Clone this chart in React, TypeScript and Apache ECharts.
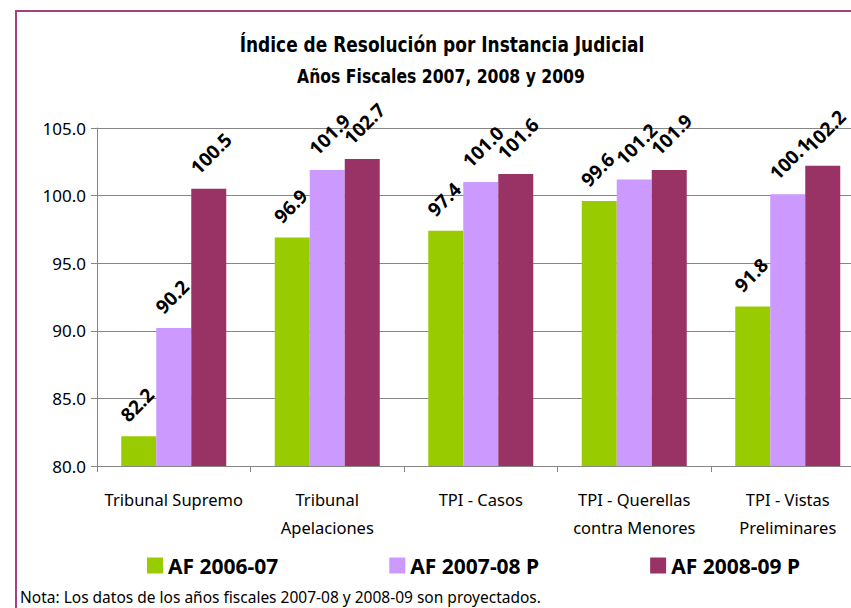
import React, { useEffect, useRef } from "react";
import * as echarts from "echarts";

const categories = [
  "Tribunal Supremo",
  "Tribunal\nApelaciones",
  "TPI - Casos",
  "TPI - Querellas\ncontra Menores",
  "TPI - Vistas\nPreliminares",
];
const seriesNames = ["AF 2006-07", "AF 2007-08 P", "AF 2008-09 P"];
const af2006 = [82.2, 96.9, 97.4, 99.6, 91.8];
const af2007 = [90.2, 101.9, 101.0, 101.2, 100.1];
const af2008 = [100.5, 102.7, 101.6, 101.9, 102.2];
const colors = ["#99CC00", "#CC99FF", "#993366"];

const titleText = "Índice de Resolución por Instancia Judicial";
const subtitleText = "Años Fiscales 2007, 2008 y 2009";
const noteText = "Nota: Los datos de los años fiscales 2007-08 y 2008-09 son proyectados.";

const labelFont = "'Noto Sans', 'DejaVu Sans', sans-serif";
const titleFont = "'DejaVu Sans Condensed', 'DejaVu Sans', sans-serif";

export default function App() {
  const ref = useRef<HTMLDivElement>(null);
  useEffect(() => {
    if (!ref.current) return;
    const chart = echarts.init(ref.current, null, { renderer: "svg" });
    const mk = (name: string, data: number[], color: string) => ({
      name,
      type: "bar",
      data,
      barWidth: 35,
      barGap: "0%",
      itemStyle: { color },
      label: {
        show: true,
        rotate: 45,
        align: "left",
        verticalAlign: "middle",
        fontFamily: labelFont,
        fontWeight: "bold",
        fontSize: 19,
        color: "#000",
        formatter: (p: any) => Number(p.value).toFixed(1),
      },
      labelLayout: (p: any) => ({
        x: p.rect.x + p.rect.width / 2 - 15,
        y: p.rect.y - 18,
        rotate: 45,
        align: "left",
        verticalAlign: "middle",
      }),
    });
    chart.setOption({
      animation: false,
      backgroundColor: "#fff",
      legend: {
        data: seriesNames,
        left: 147,
        top: 555,
        padding: 0,
        itemGap: 111,
        itemWidth: 16,
        itemHeight: 16,
        icon: "rect",
        textStyle: { fontFamily: labelFont, fontWeight: "bold", fontSize: 21, color: "#000" },
      },
      grid: {
        left: 97,
        top: 128,
        width: 767.5,
        height: 338,
        containLabel: false,
        outerBoundsMode: "none",
      },
      xAxis: {
        type: "category",
        data: categories,
        axisLine: { lineStyle: { color: "#868686" } },
        axisTick: { show: true, length: 6, lineStyle: { color: "#868686" } },
        axisLabel: {
          interval: 0,
          margin: 19,
          lineHeight: 28,
          verticalAlign: "top",
          fontFamily: labelFont,
          fontSize: 16.5,
          color: "#000",
        },
      },
      yAxis: {
        type: "value",
        min: 80,
        max: 105,
        interval: 5,
        axisLine: { show: true, lineStyle: { color: "#868686" } },
        axisTick: { show: true, length: 6, lineStyle: { color: "#868686" } },
        splitLine: { show: true, lineStyle: { color: "#868686" } },
        axisLabel: {
          margin: 11,
          fontFamily: labelFont,
          fontSize: 17,
          color: "#000",
          formatter: (v: number) => v.toFixed(1),
        },
      },
      graphic: [
        { type: "line", shape: { x1: 16, y1: 10, x2: 16, y2: 608 }, style: { stroke: "#A3437A", lineWidth: 2 } },
        { type: "line", shape: { x1: 15, y1: 11, x2: 851, y2: 11 }, style: { stroke: "#A3437A", lineWidth: 2 } },
        {
          type: "text",
          x: 442,
          y: 45,
          scaleX: 0.9,
          style: {
            text: titleText,
            fontFamily: titleFont,
            fontWeight: "bold",
            fontSize: 21,
            fill: "#000",
            textAlign: "center",
            textVerticalAlign: "middle",
          },
        },
        {
          type: "text",
          x: 441,
          y: 76,
          scaleX: 0.87,
          style: {
            text: subtitleText,
            fontFamily: titleFont,
            fontWeight: "bold",
            fontSize: 20,
            fill: "#000",
            textAlign: "center",
            textVerticalAlign: "middle",
          },
        },
        {
          type: "text",
          x: 20,
          y: 597,
          style: {
            text: noteText,
            fontFamily: labelFont,
            fontSize: 15.5,
            fill: "#000",
            textVerticalAlign: "middle",
          },
        },
      ],
      series: [mk(seriesNames[0], af2006, colors[0]), mk(seriesNames[1], af2007, colors[1]), mk(seriesNames[2], af2008, colors[2])],
    });
    return () => chart.dispose();
  }, []);
  return <div ref={ref} style={{ position: "absolute", left: 0, top: 0, width: 851, height: 608 }} />;
}
